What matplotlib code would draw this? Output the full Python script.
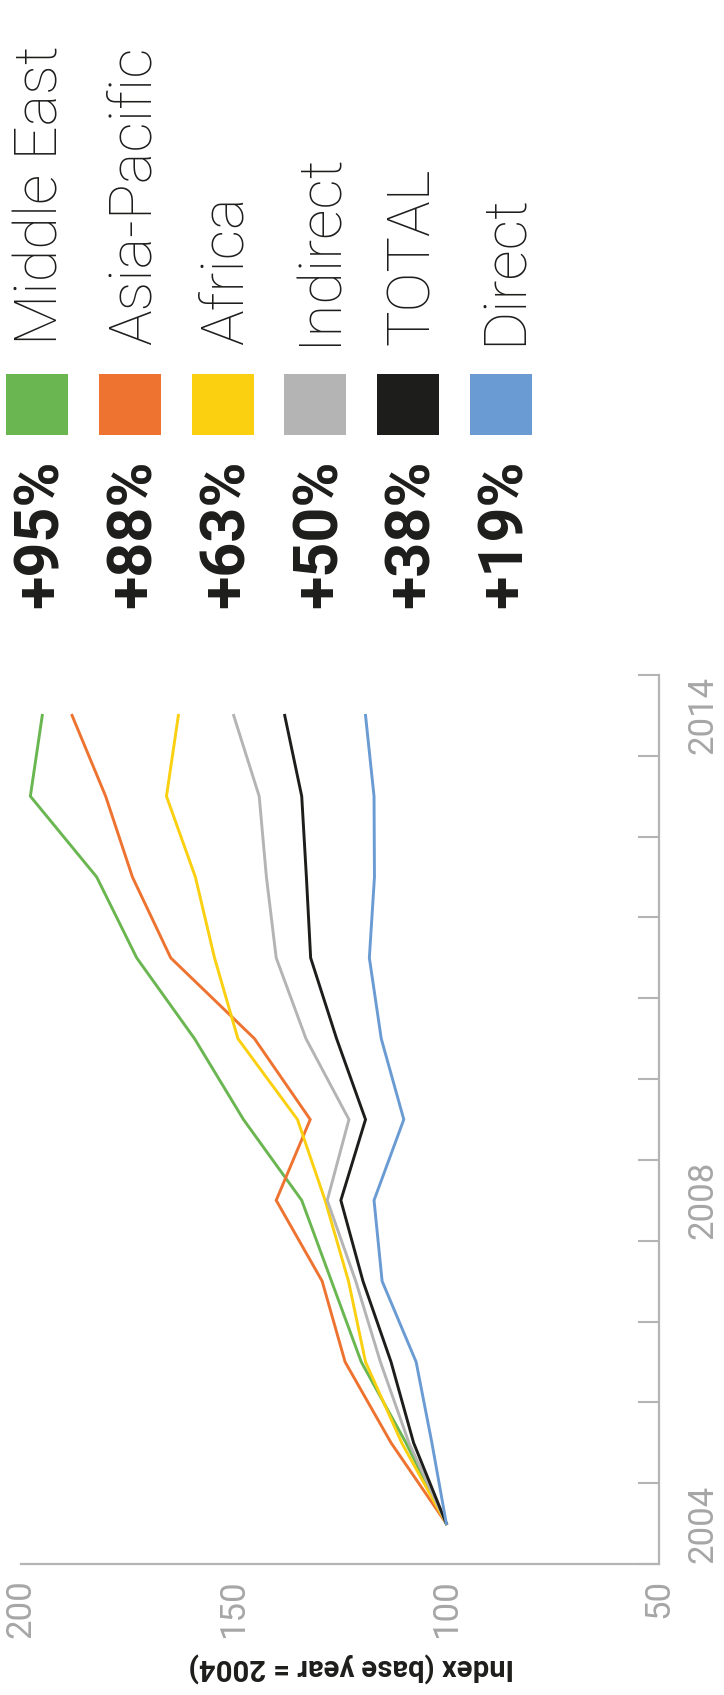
import matplotlib
matplotlib.use('Agg')
import matplotlib.pyplot as plt
from matplotlib.patches import Rectangle
import numpy as np

# Données (indice, base 2004 = 100)
years = ['2004', '2005', '2006', '2007', '2008', '2009', '2010', '2011', '2012', '2013', '2014']
middle_east = [100, 109.5, 120, 127, 134, 147.7, 159.2, 172.8, 182.2, 197.8, 195]
asia_pacific = [100, 113, 123.8, 129.2, 140, 132, 145.1, 164.8, 173.8, 180.1, 188]
africa = [100, 110.5, 119, 123, 128.5, 135, 149, 154.5, 159, 165.8, 163]
indirect = [100, 108.8, 115.5, 121.3, 128, 122.9, 133, 140, 142.3, 144, 150]
total = [100, 107.7, 113, 119.6, 124.8, 119, 125.8, 131.9, 132.9, 134, 138]
direct = [100, 103.4, 107.1, 115.1, 117, 110, 115.3, 118.1, 116.9, 117, 119]

names = ['Middle East', 'Asia-Pacific', 'Africa', 'Indirect', 'TOTAL', 'Direct']
growth = ['+95%', '+88%', '+63%', '+50%', '+38%', '+19%']
colors = ['#6ab651', '#ee7330', '#fad010', '#b3b4b3', '#1d1d1b', '#6a9bd2']
series = [middle_east, asia_pacific, africa, indirect, total, direct]

value_ticks = [200, 150, 100, 50]
year_labels = {0: '2004', 4: '2008', 10: '2014'}

gray = '#b4b4b4'
label_gray = '#a6a6a6'
plt.rcParams['font.family'] = ['Roboto', 'DejaVu Sans']

W, H = 724, 1695
fig = plt.figure(figsize=(W / 100, H / 100), dpi=100)

# le graphique est tourné : valeurs en horizontal, années en vertical
ax = fig.add_axes([21 / W, 1 - 1564 / H, (659 - 21) / W, (1564 - 675) / H])
pos = np.arange(len(years))
for vals, c in zip(series, colors):
    ax.plot(vals, pos, color=c, lw=2.1, solid_joinstyle='miter')

ax.set_xlim(200, 50)
ax.set_ylim(-0.5, len(years) - 0.5)

for s in ['top', 'left']:
    ax.spines[s].set_visible(False)
for s in ['bottom', 'right']:
    ax.spines[s].set_color(gray)
    ax.spines[s].set_linewidth(1.6)

ax.set_xticks(value_ticks)
ax.set_xticklabels([str(v) for v in value_ticks], rotation=90)
ax.tick_params(axis='x', length=0, pad=11, labelsize=25, labelcolor=label_gray)

ax.yaxis.tick_right()
ax.set_yticks(np.arange(-0.5, len(years), 1))
ax.set_yticklabels([])
ax.tick_params(axis='y', which='major', direction='in', length=15, width=1.5, color=gray)
ax.set_yticks(list(year_labels.keys()), minor=True)
ax.set_yticklabels(list(year_labels.values()), minor=True, rotation=90, va='center')
ax.tick_params(axis='y', which='minor', length=0, pad=20, labelsize=25, labelcolor=label_gray)

fig.text(351 / W, 1 - 1667 / H, 'Index (base year = 2004)', rotation=180,
         ha='center', va='center', fontsize=21, fontweight='bold', color='#1d1d1b')

# légende
for i, (name, g, c) in enumerate(zip(names, growth, colors)):
    x0 = 6 + i * 92.8
    fig.add_artist(Rectangle((x0 / W, 1 - 435 / H), 62 / W, 61 / H,
                             transform=fig.transFigure, color=c, lw=0))
    cx = (x0 + 31 + 4) / W
    fig.text(cx, 1 - 345 / H, name, rotation=90, ha='center', va='bottom',
             fontsize=43, fontweight='light', color='#1d1d1b')
    fig.text(cx, 1 - 459 / H, g, rotation=90, ha='center', va='top',
             fontsize=44, fontweight='bold', color='#1d1d1b')

fig.savefig('out.png', dpi=100)
